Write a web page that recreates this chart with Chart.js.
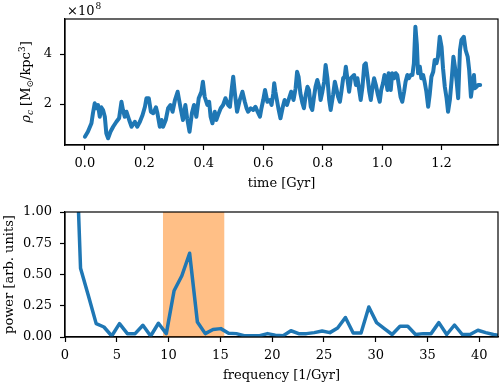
<!DOCTYPE html>
<html>
<head>
<meta charset="utf-8">
<script src="https://cdn.jsdelivr.net/npm/chart.js@4.4.1/dist/chart.umd.min.js"></script>
<style>
    body { margin: 0; background: #fff; }
    #wrap { position: relative; width: 500px; height: 384px; }
    canvas { position: absolute; left: 0; }
    #densityChart { top: 0; }
    #powerChart { top: 192px; }
</style>
</head>
<body>
<div id="wrap">
    <canvas id="densityChart" width="500" height="192"></canvas>
    <canvas id="powerChart" width="500" height="192"></canvas>
</div>
<script>
// Central density vs time (values in units of 1e8 Msun/kpc^3)
const timeGyr = [
    0.000, 0.010, 0.022, 0.027, 0.033, 0.038, 0.044, 0.050, 0.055, 0.061,
    0.067, 0.072, 0.078, 0.086, 0.095, 0.106, 0.115, 0.123, 0.128, 0.134,
    0.140, 0.149, 0.157, 0.168, 0.176, 0.185, 0.194, 0.202, 0.207, 0.215,
    0.222, 0.230, 0.239, 0.244, 0.252, 0.258, 0.263, 0.272, 0.280, 0.288,
    0.295, 0.303, 0.312,
    0.322, 0.330, 0.338, 0.344, 0.352, 0.360, 0.367, 0.375, 0.383, 0.392,
    0.397, 0.403, 0.412, 0.418, 0.423, 0.429, 0.437, 0.442, 0.448, 0.457,
    0.465, 0.473, 0.482, 0.488, 0.493, 0.499, 0.504, 0.512, 0.521, 0.530,
    0.538, 0.544, 0.549, 0.558, 0.566, 0.574, 0.581, 0.589, 0.594, 0.600,
    0.606, 0.614, 0.623, 0.628, 0.634, 0.637, 0.641, 0.651,
    0.658, 0.666, 0.672, 0.680, 0.687, 0.694, 0.702, 0.709, 0.714, 0.719,
    0.725, 0.732, 0.737, 0.743, 0.749, 0.754, 0.760, 0.765, 0.771, 0.776,
    0.782, 0.788, 0.793, 0.799, 0.805, 0.810, 0.816, 0.822, 0.827, 0.835,
    0.841, 0.846, 0.852, 0.858, 0.863, 0.869, 0.874, 0.878, 0.883, 0.889,
    0.895, 0.900, 0.906, 0.912, 0.917, 0.923, 0.928, 0.934, 0.940, 0.945,
    0.951, 0.957, 0.962, 0.968, 0.973, 0.979,
    0.986, 0.992, 0.997, 1.003, 1.008, 1.014, 1.018, 1.022, 1.029, 1.034,
    1.040, 1.046, 1.051, 1.057, 1.062, 1.068, 1.074, 1.079, 1.085, 1.090,
    1.096, 1.102, 1.107, 1.112, 1.117, 1.121, 1.127, 1.132, 1.138, 1.143,
    1.149, 1.155, 1.160, 1.166, 1.172, 1.177, 1.183, 1.188, 1.194, 1.200,
    1.205, 1.211, 1.217, 1.222, 1.228, 1.234, 1.240, 1.245, 1.251, 1.256,
    1.262, 1.267, 1.275, 1.281, 1.288, 1.293, 1.299, 1.304, 1.309, 1.312,
    1.318, 1.323, 1.330
];
const rhoC = [
    0.69, 0.89, 1.23, 1.63, 2.03, 1.83, 1.96, 1.49, 1.87, 1.76,
    1.49, 0.83, 0.63, 0.89, 1.09, 1.29, 1.43, 2.09, 1.76, 1.49,
    1.69, 1.36, 1.09, 1.29, 1.09, 1.29, 1.56, 1.89, 2.23, 2.23,
    1.69, 1.63, 1.87, 1.63, 1.09, 1.36, 1.09, 1.36, 1.83, 1.96,
    1.69, 2.16, 2.49,
    1.83, 1.36, 1.96, 1.43, 0.89, 1.63, 1.96, 1.49, 2.23, 2.49,
    2.89, 2.29, 1.96, 2.09, 1.49, 1.23, 1.69, 1.36, 1.56, 1.83,
    1.96, 2.23, 1.96, 1.89, 2.49, 3.09, 2.49, 1.69, 2.16, 2.49,
    2.09, 1.83, 1.69, 1.83, 1.76, 1.89, 1.69, 1.49, 1.83, 2.16,
    2.56, 2.09, 2.16, 1.96, 2.43, 2.83, 2.49, 1.83,
    1.43, 1.89, 2.16, 1.96, 2.23, 2.49, 2.16, 2.63, 3.29, 3.09,
    2.43, 2.03, 1.83, 2.36, 2.69, 2.56, 1.89, 1.76, 2.29, 2.69,
    2.96, 2.69, 2.16, 2.49, 2.89, 3.56, 3.03, 2.16, 1.76, 2.36,
    2.89, 2.63, 2.29, 2.09, 2.49, 3.03, 3.09, 3.49, 3.03, 2.49,
    3.03, 3.09, 3.16, 2.76, 3.03, 2.56, 2.16, 2.69, 3.56, 3.63,
    3.09, 2.49, 2.16, 2.69, 3.03, 2.76,
    2.36, 2.09, 2.56, 2.83, 3.16, 2.89, 2.56, 3.23, 2.56, 3.23,
    3.03, 3.23, 3.16, 2.69, 2.29, 2.09, 2.49, 2.89, 3.16, 3.03,
    3.16, 3.16, 3.63, 5.09, 4.36, 3.23, 3.49, 3.03, 3.16, 2.89,
    2.49, 1.89, 2.36, 3.09, 3.29, 3.76, 3.63, 3.89, 4.69, 4.29,
    3.43, 2.69, 2.23, 1.69, 2.16, 2.96, 3.89, 3.49, 2.89, 2.23,
    4.16, 4.56, 4.69, 4.16, 3.89, 3.36, 2.29, 2.76, 3.16, 2.63,
    2.69, 2.76, 2.76
];
const timeTicks = [0, 0.2, 0.4, 0.6, 0.8, 1.0, 1.2];
const rhoTicks = [2, 4];

// Power spectrum
const freq = [
    0.75, 1.50, 2.26, 3.01, 3.76, 4.51, 5.26, 6.02, 6.77, 7.52,
    8.27, 9.02, 9.78, 10.53, 11.28, 12.03, 12.78, 13.54, 14.29, 15.04,
    15.79, 16.54, 17.29, 18.05, 18.80, 19.55, 20.30, 21.06, 21.81, 22.56,
    23.31, 24.06, 24.82, 25.57, 26.32, 27.07, 27.82, 28.58, 29.33, 30.08,
    30.83, 31.58, 32.34, 33.09, 33.84, 34.59, 35.34, 36.09, 36.85, 37.60,
    38.35, 39.10, 39.86, 40.61, 41.36, 42.11
];
const power = [
    2.3, 0.55, 0.33, 0.107, 0.08, 0.008, 0.107, 0.027, 0.027, 0.094,
    0.008, 0.11, 0.027, 0.37, 0.49, 0.67, 0.12, 0.027, 0.06, 0.067,
    0.03, 0.027, 0.01, 0.01, 0.01, 0.027, 0.015, 0.01, 0.05, 0.027,
    0.027, 0.035, 0.048, 0.035, 0.072, 0.156, 0.032, 0.032, 0.24, 0.115,
    0.067, 0.02, 0.086, 0.086, 0.02, 0.027, 0.027, 0.115, 0.02, 0.096,
    0.02, 0.02, 0.054, 0.035, 0.02, 0.01
];
const bandRange = [9.45, 15.4];
const freqTicks = [0, 5, 10, 15, 20, 25, 30, 35, 40];
const powerTicks = [0, 0.25, 0.5, 0.75, 1.0];

const SERIF = "'DejaVu Serif', serif";
const BLUE = '#1f77b4';

// Common look of an axis: black outward ticks, no grid
function axisStyle(tickValues, fmt, padding) {
    return {
        type: 'linear',
        afterBuildTicks: scale => { scale.ticks = tickValues.map(v => ({ value: v })); },
        grid: {
            display: true,
            drawOnChartArea: false,
            drawTicks: true,
            tickLength: 5,
            tickWidth: 1.2,
            tickColor: '#000'
        },
        border: { display: true, color: '#000', width: 1.2 },
        ticks: {
            autoSkip: false,
            maxRotation: 0,
            padding: padding,
            color: '#000',
            font: { family: SERIF, size: 13 },
            callback: v => fmt(v)
        }
    };
}

// Draw the full box around the plot area
const frameBox = {
    id: 'frameBox',
    afterDraw(chart) {
        const a = chart.chartArea;
        const ctx = chart.ctx;
        ctx.save();
        ctx.strokeStyle = '#000';
        ctx.lineWidth = 1.2;
        ctx.strokeRect(a.left, a.top, a.right - a.left, a.bottom - a.top);
        ctx.restore();
    }
};

// Y label with sub/superscripts and the x10^8 offset text
const densityLabels = {
    id: 'densityLabels',
    afterDraw(chart) {
        const ctx = chart.ctx;
        const a = chart.chartArea;
        ctx.save();
        ctx.fillStyle = '#000';
        ctx.textBaseline = 'alphabetic';

        // offset text
        ctx.font = '13px ' + SERIF;
        ctx.fillText('\u00d710', 67, 15);
        const w = ctx.measureText('\u00d710').width;
        ctx.font = '9px ' + SERIF;
        ctx.fillText('8', 67 + w + 1, 9);

        // rotated y label
        const parts = [
            { t: '\u03c1', f: 'italic 13px ', dy: 0 },
            { t: 'c', f: 'italic 9px ', dy: 3 },
            { t: ' [M', f: '13px ', dy: 0 },
            { t: '\u2299', f: '9px ', dy: 3 },
            { t: '/kpc', f: '13px ', dy: 0 },
            { t: '3', f: '9px ', dy: -5 },
            { t: ']', f: '13px ', dy: 0 }
        ];
        let total = 0;
        parts.forEach(p => {
            ctx.font = p.f + SERIF;
            p.w = ctx.measureText(p.t).width;
            total += p.w;
        });
        ctx.translate(25, (a.top + a.bottom) / 2);
        ctx.rotate(-Math.PI / 2);
        let x = -total / 2;
        parts.forEach(p => {
            ctx.font = p.f + SERIF;
            ctx.fillText(p.t, x, 4.5 + p.dy);
            x += p.w;
        });
        ctx.restore();
    }
};

// Top panel: central density
const densityX = axisStyle(timeTicks, v => v.toFixed(1), 6);
densityX.min = -0.067;
densityX.max = 1.39;
densityX.afterFit = scale => { scale.height = 47; };
densityX.title = {
    display: true,
    text: 'time [Gyr]',
    color: '#000',
    font: { family: SERIF, size: 13 },
    padding: { top: 0, bottom: 1 }
};
const densityY = axisStyle(rhoTicks, v => String(v), 8);
densityY.min = 0.36;
densityY.max = 5.4;
densityY.afterFit = scale => { scale.width = 65; };

new Chart(document.getElementById('densityChart'), {
    type: 'line',
    data: {
        datasets: [{
            data: timeGyr.map((t, i) => ({ x: t, y: rhoC[i] })),
            borderColor: BLUE,
            borderWidth: 4,
            borderJoinStyle: 'round',
            borderCapStyle: 'round',
            pointRadius: 0,
            tension: 0,
            fill: false
        }]
    },
    options: {
        responsive: false,
        animation: false,
        devicePixelRatio: 1,
        layout: { padding: { top: 19, right: 2, left: 0, bottom: 0 } },
        plugins: { legend: { display: false }, tooltip: { enabled: false } },
        scales: { x: densityX, y: densityY }
    },
    plugins: [frameBox, densityLabels]
});

// Bottom panel: power spectrum with highlighted band
const powerX = axisStyle(freqTicks, v => String(v), 6);
powerX.min = 0;
powerX.max = 41.8;
powerX.afterFit = scale => { scale.height = 47; };
powerX.title = {
    display: true,
    text: 'frequency [1/Gyr]',
    color: '#000',
    font: { family: SERIF, size: 13 },
    padding: { top: 0, bottom: 1 }
};
const powerY = axisStyle(powerTicks, v => v.toFixed(2), 8);
powerY.min = 0;
powerY.max = 1;
powerY.afterFit = scale => { scale.width = 65; };
powerY.title = {
    display: true,
    text: 'power [arb. units]',
    color: '#000',
    font: { family: SERIF, size: 13 },
    padding: { top: 2, bottom: 0 }
};

new Chart(document.getElementById('powerChart'), {
    type: 'line',
    data: {
        datasets: [
            {
                data: freq.map((f, i) => ({ x: f, y: power[i] })),
                borderColor: BLUE,
                borderWidth: 3.5,
                borderJoinStyle: 'round',
                pointRadius: 0,
                tension: 0,
                fill: false,
                clip: 0,
                order: 0
            },
            {
                // band drawn as a filled segment at the top of the axis
                data: bandRange.map(f => ({ x: f, y: 1 })),
                borderWidth: 0,
                borderColor: 'rgba(0,0,0,0)',
                backgroundColor: 'rgba(255,127,14,0.5)',
                pointRadius: 0,
                fill: 'origin',
                order: 1
            }
        ]
    },
    options: {
        responsive: false,
        animation: false,
        devicePixelRatio: 1,
        layout: { padding: { top: 20, right: 2, left: 0, bottom: 0 } },
        plugins: { legend: { display: false }, tooltip: { enabled: false } },
        scales: { x: powerX, y: powerY }
    },
    plugins: [frameBox]
});
</script>
</body>
</html>
